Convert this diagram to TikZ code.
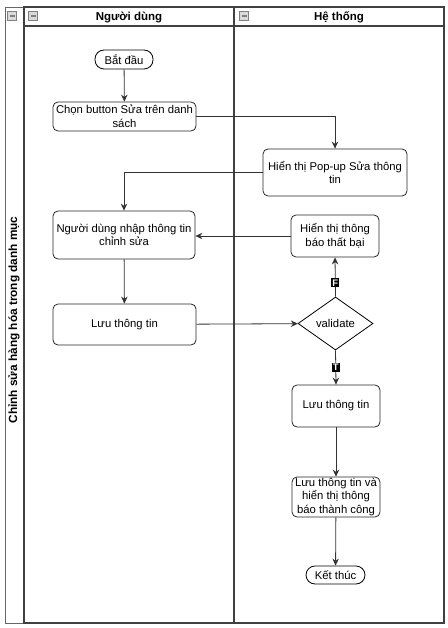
\documentclass[tikz,border=0pt]{standalone}
\usepackage{fontspec}
\setmainfont{Liberation Sans}
\usetikzlibrary{shapes.geometric, arrows.meta}

\begin{document}
\begin{tikzpicture}[x=1pt, y=-1pt, font=\fontsize{11.3}{13.5}\selectfont]
  \tikzset{
    step_node/.style={rectangle, rounded corners=5pt, draw=black!85, line width=0.8pt, align=center, inner sep=1pt},
    term_node/.style={rectangle, rounded corners=9pt, draw=black, line width=0.8pt, inner sep=1pt},
    dec_node/.style={diamond, draw=black, line width=0.8pt, inner sep=0pt, aspect=1.415, minimum width=75pt, minimum height=53pt},
    flow/.style={draw=black!80, line width=0.8pt, -{Stealth[length=7pt, width=6.5pt]}},
    edge_label/.style={fill=black, text=white, font=\fontsize{9.5}{10}\selectfont\bfseries, inner sep=1.2pt},
    lane_line/.style={draw=black!75, line width=1.4pt},
    min_box/.style={draw=black!50, fill=black!15, line width=0.6pt, minimum size=9pt, inner sep=0pt,
      path picture={\draw[line width=1.3pt] ([xshift=2pt]path picture bounding box.west) -- ([xshift=-2pt]path picture bounding box.east);}}
  }
  \useasboundingbox (0,0) rectangle (447,628);

  % Khung swimlane
  \draw[draw=black!60, line width=0.8pt] (5,7) rectangle (444,623);
  \draw[lane_line] (24,7) rectangle (234,623);
  \draw[lane_line] (234,7) rectangle (444,623);
  \draw[lane_line] (24,26) -- (444,26);

  % Tiêu đề
  \node[rotate=90, font=\fontsize{11.8}{13}\selectfont\bfseries] (title) at (14,320) {Chỉnh sửa hàng hóa trong danh mục};
  \node[font=\fontsize{11.5}{13}\selectfont\bfseries] (lane_user) at (129,17.5) {Người dùng};
  \node[font=\fontsize{11.5}{13}\selectfont\bfseries] (lane_sys) at (339,17.5) {Hệ thống};
  \node[min_box] (min_pool) at (12,16) {};
  \node[min_box] (min_user) at (33,16) {};
  \node[min_box] (min_sys) at (244,16) {};

  % Người dùng
  \node[term_node, minimum width=58pt, minimum height=19pt] (start) at (124,59.5) {Bắt đầu};
  \node[step_node, minimum width=143pt, minimum height=29pt] (chon) at (124.5,116.5) {Chọn button Sửa trên danh\\sách};
  \node[step_node, minimum width=142pt, minimum height=48pt] (nhap) at (124,235) {Người dùng nhập thông tin\\chỉnh sửa};
  \node[step_node, minimum width=143pt, minimum height=41pt] (luu_user) at (124.5,324.5) {Lưu thông tin};

  % Hệ thống
  \node[step_node, minimum width=144pt, minimum height=47pt] (popup) at (335,172.5) {Hiển thị Pop-up Sửa thông\\tin};
  \node[step_node, minimum width=88pt, minimum height=42pt] (fail) at (335,236) {Hiển thị thông\\báo thất bại};
  \node[dec_node] (validate) at (335.5,323.5) {validate};
  \node[step_node, minimum width=88pt, minimum height=42pt] (luu_sys) at (336,406) {Lưu thông tin};
  \node[step_node, minimum width=88pt, minimum height=40pt] (done) at (336,497) {Lưu thông tin và\\hiển thị thông\\báo thành công};
  \node[term_node, minimum width=59pt, minimum height=18pt] (end) at (335.5,575) {Kết thúc};

  % Luồng
  \draw[flow] (start) -- (chon);
  \draw[flow] (chon.east) -| (popup.north);
  \draw[flow] (popup.west) -| (nhap.north);
  \draw[flow] (nhap) -- (luu_user);
  \draw[flow] (luu_user) -- (validate);
  \draw[flow] (validate.north) -- node[edge_label, pos=0.35] {F} (fail.south);
  \draw[flow] (fail.west) -- (nhap.east |- fail.west);
  \draw[flow] (validate.south) -- node[edge_label] {T} (luu_sys.north);
  \draw[flow] (luu_sys) -- (done);
  \draw[flow] (done) -- (end);
\end{tikzpicture}
\end{document}
